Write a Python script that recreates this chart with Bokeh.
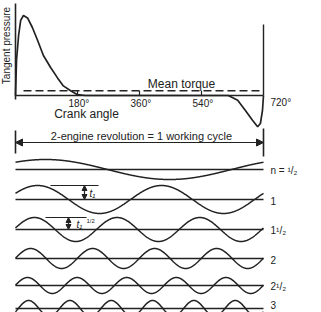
import numpy as np
from bokeh.plotting import figure
from bokeh.models import Range1d, Arrow, NormalHead
from bokeh.embed import file_html
from bokeh.resources import INLINE
from bokeh.core.properties import value

# ---- data: tangent-pressure (torque) diagram over one working cycle ----
crank_angle = [0, 3, 9, 15, 23, 35, 49, 64, 81, 102, 122, 139, 160, 180, 203,
               360, 540, 618, 645, 668, 688, 703, 711, 717, 720]
tangent_pressure = [0, 44, 75, 94, 100, 97, 85, 69, 50, 35, 22, 12, 6, 1, 0,
                    0, 0, 0, -6, -19, -31, -39, -35, -19, 0]
mean_torque = 6
tick_angles = [180, 360, 540]
tick_labels = ["180°", "360°", "540°", "720°"]

# ---- data: harmonic components (order n relative to crank revolution) ----
orders = [0.5, 1, 1.5, 2, 2.5, 3]
order_labels = ["n = ¹/₂", "1", "1¹/₂", "2", "2¹/₂", "3"]
amplitudes = [12.5, 17.5, 15, 12.5, 10, 10]
phases = [87, 64, 55, 44, 35, 38]  # crank angle of first maximum, degrees

# ---- layout (screen-like vertical coordinate) ----
INK = "#222222"
FONT = value("Liberation Sans")
SCALE = 0.8          # px per pressure unit
Y0 = 95              # baseline of torque diagram
row_base = [169, 199, 229, 258, 285, 308]
deg_per_px = 720 / 248

def px(xp):
    return (xp - 15) * deg_per_px

p = figure(width=321, height=312, output_backend="svg", toolbar_location=None,
           x_range=Range1d(px(0), px(321)), y_range=Range1d(312, 0),
           min_border=0, x_axis_type=None, y_axis_type=None)
p.grid.visible = False
p.outline_line_color = None
p.background_fill_color = "white"
p.border_fill_color = "white"

# axes of torque diagram
p.line([0, 0], [3, 99], line_color=INK, line_width=1.6)
p.line([0, 720], [Y0, Y0], line_color=INK, line_width=1.5)
p.line([720, 720], [24, Y0], line_color=INK, line_width=1.4)

# torque curve
ty = [Y0 - SCALE * v for v in tangent_pressure]
p.line(crank_angle, ty, line_color=INK, line_width=1.7)

# mean torque dashed
my = Y0 - SCALE * mean_torque
p.line([px(23), 720], [my, my], line_color=INK, line_width=1.4, line_dash="8 4")
for a in tick_angles:
    p.line([a, a], [my, Y0], line_color=INK, line_width=1.2)

# tick labels
for a, lab in zip(tick_angles, tick_labels[:3]):
    p.text([a + 4], [103], text=[lab], text_font=FONT, text_font_size="10px",
           text_align="center", text_baseline="middle", text_color=INK)
p.text([px(270)], [102], text=[tick_labels[3]], text_font=FONT, text_font_size="10px",
       text_align="left", text_baseline="middle", text_color=INK)

p.text([px(86)], [113], text=["Crank angle"], text_font=FONT, text_font_size="12px",
       text_align="center", text_baseline="middle", text_color=INK)
p.text([px(181)], [83], text=["Mean torque"], text_font=FONT, text_font_size="12px",
       text_align="center", text_baseline="middle", text_color=INK)
p.text([px(6)], [45], text=["Tangent pressure"], text_font=FONT, text_font_size="10px",
       text_align="center", text_baseline="middle", text_color=INK, angle=np.pi / 2)

# working-cycle arrow
p.line([0, 0], [130, 153], line_color=INK, line_width=1.6)
p.line([720, 720], [128, 156], line_color=INK, line_width=1.6)
p.add_layout(Arrow(x_start=0, y_start=142, x_end=720, y_end=142,
                   line_color=INK, line_width=1.2,
                   start=NormalHead(size=7, fill_color=INK, line_color=INK),
                   end=NormalHead(size=7, fill_color=INK, line_color=INK)))
p.text([px(141)], [135], text=["2-engine revolution = 1 working cycle"], text_font=FONT,
       text_font_size="11px", text_align="center", text_baseline="middle", text_color=INK)

# harmonic rows
theta = np.linspace(0, 720, 721)
for n, lab, amp, ph, base in zip(orders, order_labels, amplitudes, phases, row_base):
    yy = base - SCALE * amp * np.cos(np.radians(n * (theta - ph)))
    p.line([0, 720], [base, base], line_color=INK, line_width=1.3)
    p.line(theta, yy, line_color=INK, line_width=1.5)
    ly = min(base + 1, 304)
    p.text([px(270)], [ly], text=[lab], text_font=FONT, text_font_size="10px",
           text_align="left", text_baseline="middle", text_color=INK)

# amplitude markers t1 and t1 1/2
a1 = row_base[1] - SCALE * amplitudes[1]
p.line([px(50), px(98)], [a1, a1], line_color=INK, line_width=1.2)
p.add_layout(Arrow(x_start=px(84), y_start=a1, x_end=px(84), y_end=row_base[1],
                   line_color=INK, line_width=1.2,
                   start=NormalHead(size=5, fill_color=INK, line_color=INK),
                   end=NormalHead(size=5, fill_color=INK, line_color=INK)))
p.text([px(89)], [193], text=["t₁"], text_font=FONT, text_font_size="10px",
       text_font_style="italic", text_align="left", text_baseline="middle", text_color=INK)

a2 = row_base[2] - SCALE * amplitudes[2]
p.line([px(45), px(86)], [a2, a2], line_color=INK, line_width=1.2)
p.add_layout(Arrow(x_start=px(68), y_start=a2, x_end=px(68), y_end=row_base[2],
                   line_color=INK, line_width=1.2,
                   start=NormalHead(size=5, fill_color=INK, line_color=INK),
                   end=NormalHead(size=5, fill_color=INK, line_color=INK)))
p.text([px(76)], [224], text=["t₁"], text_font=FONT, text_font_size="10px",
       text_font_style="italic", text_align="left", text_baseline="middle", text_color=INK)
p.text([px(86)], [220], text=["1/2"], text_font=FONT, text_font_size="6px",
       text_align="left", text_baseline="middle", text_color=INK)

open("out.html", "w").write(file_html(p, INLINE))
